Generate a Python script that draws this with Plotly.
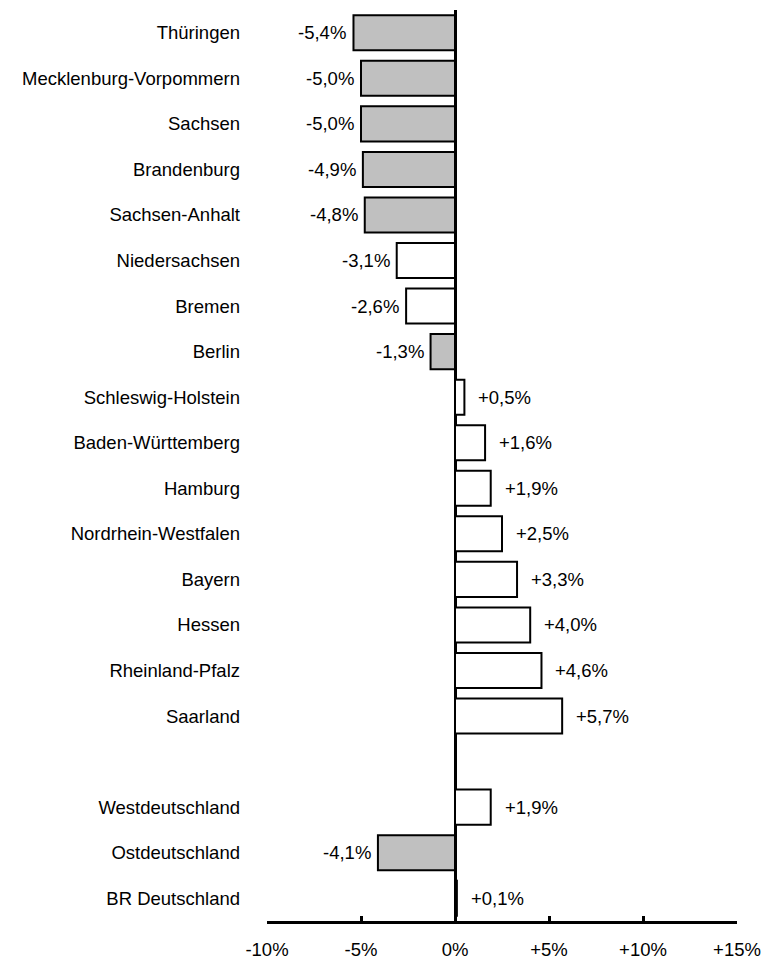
import plotly.graph_objects as go

states = ["Thüringen", "Mecklenburg-Vorpommern", "Sachsen", "Brandenburg", "Sachsen-Anhalt",
          "Niedersachsen", "Bremen", "Berlin", "Schleswig-Holstein", "Baden-Württemberg",
          "Hamburg", "Nordrhein-Westfalen", "Bayern", "Hessen", "Rheinland-Pfalz", "Saarland"]
state_values = [-5.4, -5.0, -5.0, -4.9, -4.8, -3.1, -2.6, -1.3, 0.5, 1.6, 1.9, 2.5, 3.3, 4.0, 4.6, 5.7]
state_east = [True, True, True, True, True, False, False, True, False, False, False, False, False, False, False, False]

regions = ["Westdeutschland", "Ostdeutschland", "BR Deutschland"]
region_values = [1.9, -4.1, 0.1]
region_east = [False, True, False]

x_ticks = [-10, -5, 0, 5, 10, 15]
x_ticktext = ["-10%", "-5%", "0%", "+5%", "+10%", "+15%"]

GRAY = "#C0C0C0"
FONT = "Liberation Sans, Arial, sans-serif"
FS = 18.5

labels = states + regions
values = state_values + region_values
east = state_east + region_east
# positions: states, one empty slot, then the regions
pos = list(range(len(states))) + [len(states) + 1 + i for i in range(len(regions))]

colors = [GRAY if e else "white" for e in east]

fig = go.Figure()
fig.add_trace(go.Bar(
    x=values, y=pos, orientation="h",
    marker=dict(color=colors, line=dict(color="black", width=2)),
    width=0.77, hoverinfo="skip",
))

def fmt(v):
    return f"{v:+.1f}".replace(".", ",") + "%"

for v, p in zip(values, pos):
    if v < 0:
        fig.add_annotation(x=v, y=p, text=fmt(v), showarrow=False, xanchor="right",
                           xshift=-5, font=dict(family=FONT, size=FS, color="black"))
    else:
        fig.add_annotation(x=v, y=p, text=fmt(v), showarrow=False, xanchor="left",
                           xshift=12, font=dict(family=FONT, size=FS, color="black"))

fig.update_layout(
    width=766, height=960,
    margin=dict(l=267, r=29, t=10, b=39),
    paper_bgcolor="white", plot_bgcolor="white",
    showlegend=False,
    font=dict(family=FONT, size=FS, color="black"),
    xaxis=dict(
        range=[-10, 15], tickvals=x_ticks, ticktext=x_ticktext,
        showgrid=False, zeroline=True, zerolinecolor="black", zerolinewidth=3,
        showline=True, linecolor="black", linewidth=3,
        ticks="inside", ticklen=5, tickwidth=3, tickcolor="black",
        ticklabelstandoff=10, automargin=False, fixedrange=True,
        tickfont=dict(family=FONT, size=FS, color="black"),
    ),
    yaxis=dict(
        tickvals=pos, ticktext=labels, range=[max(pos) + 0.5, -0.5],
        showgrid=False, zeroline=False, showline=False, ticks="",
        ticklabelstandoff=26, automargin=False, fixedrange=True,
        tickfont=dict(family=FONT, size=FS, color="black"),
    ),
)

fig.write_html(
    "out.html",
    config={"displayModeBar": False},
    post_script="document.body.style.margin='0';document.body.style.overflow='hidden';",
)
